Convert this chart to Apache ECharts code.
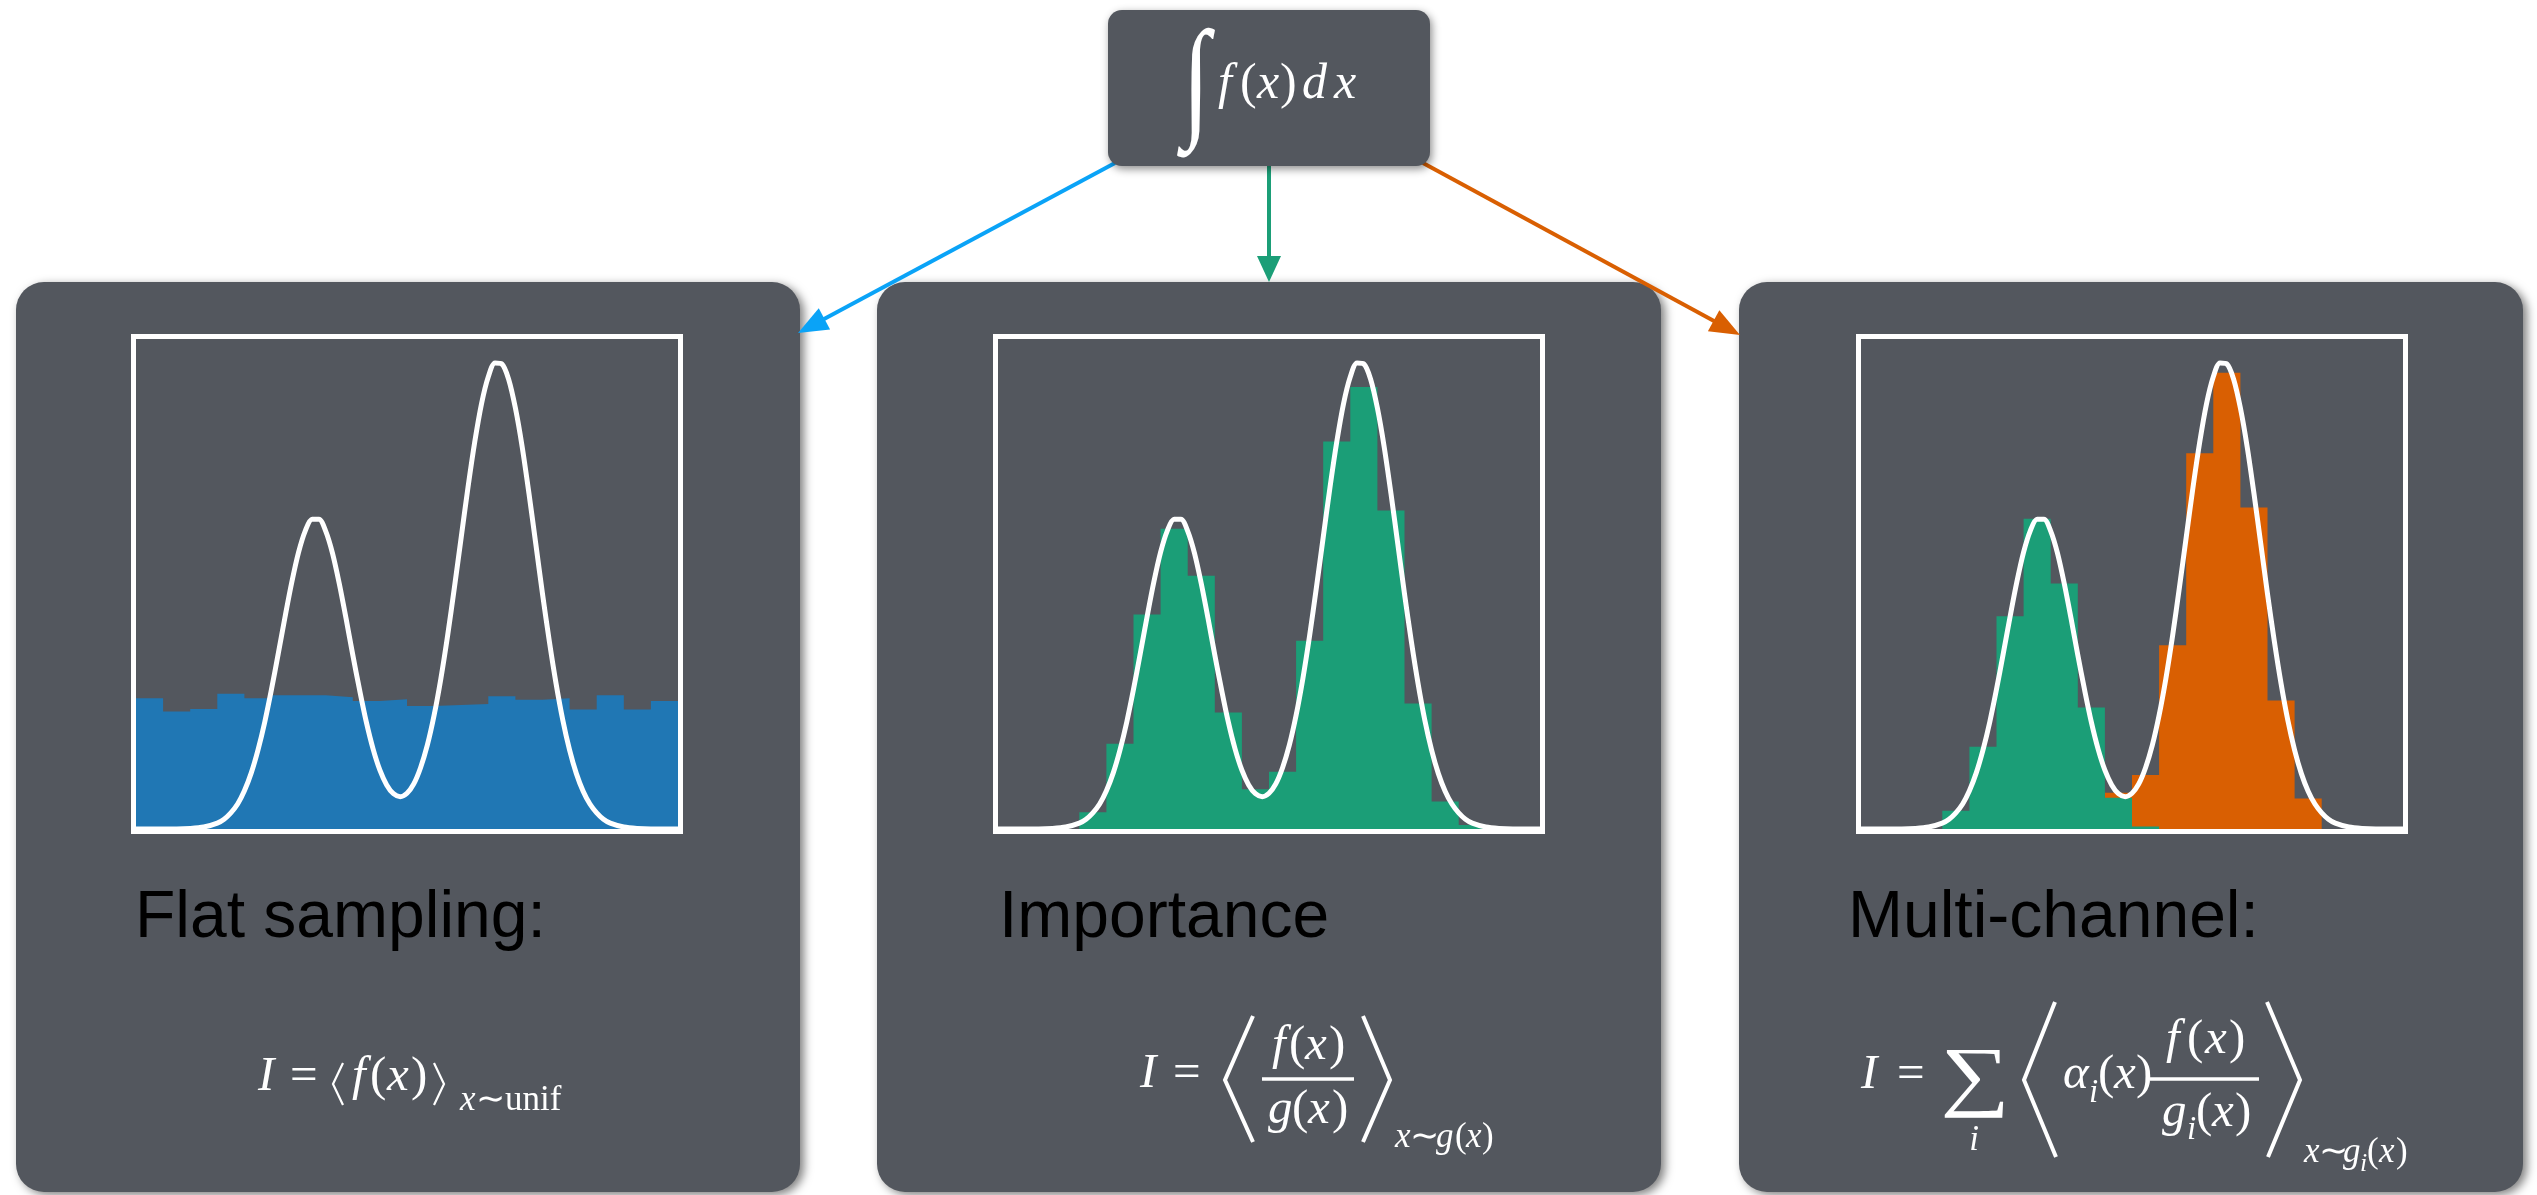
<!DOCTYPE html>
<html>
<head>
<meta charset="utf-8">
<script src="https://cdn.jsdelivr.net/npm/echarts@6/dist/echarts.min.js"></script>
<style>
  html, body { margin: 0; padding: 0; background: #ffffff; }
  #chart { width: 2537px; height: 1195px; }
</style>
</head>
<body>
<div id="chart"></div>
<script>
// ---- data -------------------------------------------------------------
// left edges of the 20 histogram bins on [0, 1], plus the closing edge
const binEdges = [0, 0.05, 0.1, 0.15, 0.2, 0.25, 0.3, 0.35, 0.4, 0.45,
                  0.5, 0.55, 0.6, 0.65, 0.7, 0.75, 0.8, 0.85, 0.9, 0.95, 1];

// integrand f(x), sampled on [0, 1]
const curveX = [0, 0.025, 0.05, 0.075, 0.1, 0.125, 0.15, 0.1625, 0.175, 0.1875, 0.2, 0.2125, 0.225, 0.2375,
                0.25, 0.2625, 0.275, 0.2875, 0.3, 0.3125, 0.325, 0.3375, 0.35, 0.3625, 0.375, 0.3875, 0.4,
                0.4125, 0.425, 0.4375, 0.45, 0.4625, 0.475, 0.4875, 0.5, 0.5125, 0.525, 0.5375, 0.55, 0.5625,
                0.575, 0.5875, 0.6, 0.6125, 0.625, 0.6375, 0.65, 0.6625, 0.675, 0.6875, 0.7, 0.7125, 0.725,
                0.7375, 0.75, 0.7625, 0.775, 0.7875, 0.8, 0.8125, 0.825, 0.8375, 0.85, 0.8625, 0.875,
                0.9, 0.925, 0.95, 0.975, 1];
const curveY = [0, 0, 0, 0, 0.001, 0.004, 0.012, 0.020, 0.033, 0.051, 0.078, 0.114, 0.161, 0.218,
                0.285, 0.358, 0.433, 0.504, 0.565, 0.609, 0.632, 0.632, 0.608, 0.563, 0.501, 0.430, 0.355,
                0.284, 0.218, 0.163, 0.120, 0.090, 0.072, 0.066, 0.073, 0.092, 0.125, 0.171, 0.232, 0.307,
                0.395, 0.493, 0.595, 0.697, 0.790, 0.868, 0.923, 0.951, 0.949, 0.918, 0.859, 0.780, 0.685,
                0.583, 0.480, 0.384, 0.297, 0.222, 0.161, 0.113, 0.077, 0.051, 0.033, 0.020, 0.012,
                0.004, 0.001, 0, 0, 0];

// sample histograms (one value per bin)
const flatSamples       = [0.267, 0.240, 0.245, 0.276, 0.267, 0.273, 0.273, 0.269, 0.261, 0.265,
                           0.251, 0.253, 0.255, 0.271, 0.264, 0.267, 0.244, 0.273, 0.244, 0.261];
const importanceSamples = [0, 0, 0, 0.034, 0.174, 0.438, 0.613, 0.517, 0.238, 0.081,
                           0.117, 0.384, 0.791, 0.902, 0.650, 0.256, 0.056, 0.008, 0, 0];
const channelOneSamples = [0, 0, 0, 0.037, 0.168, 0.434, 0.633, 0.501, 0.248, 0.064,
                           0.005, 0, 0, 0, 0, 0, 0, 0, 0, 0];
const channelTwoSamples = [0, 0, 0, 0, 0, 0, 0, 0, 0, 0.074,
                           0.110, 0.375, 0.767, 0.931, 0.656, 0.262, 0.062, 0, 0, 0];

const panelTitles = ['Flat sampling:', 'Importance', 'Multi-channel:'];

// ---- styling / layout ---------------------------------------------------
const PANEL_FILL = '#53575e';
const BLUE_BAR = '#2077b4';
const GREEN = '#1b9e77';
const ORANGE = '#d95f02';
const BLUE_ARROW = '#0aa3f7';
const WHITE = '#ffffff';

const panelLeft = [16, 877, 1739];
const PANEL_TOP = 282, PANEL_W = 784, PANEL_H = 910;
const plotLeft = [136, 998, 1861];
const PLOT_TOP = 339, PLOT_W = 542, PLOT_H = 490;
const titleLeft = [135, 999, 1848];

const SERIF = 'Liberation Serif';
const SANS = 'Liberation Sans';

const curveData = curveX.map((x, i) => [x, curveY[i]]);

// ---- grids & axes: one plot per panel ------------------------------------
const grids = [], xAxes = [], yAxes = [];
plotLeft.forEach((left, g) => {
  grids.push({ left: left, top: PLOT_TOP, width: PLOT_W, height: PLOT_H, show: false, containLabel: false });
  xAxes.push({ type: 'value', gridIndex: g, min: 0, max: 1, show: false });
  yAxes.push({ type: 'value', gridIndex: g, min: 0, max: 1, show: false });
});

// a histogram is a filled step outline: each bin holds its value from its left edge to the next edge
function histogram(name, counts, g, color) {
  const data = binEdges.map((x, i) => [x, counts[Math.min(i, counts.length - 1)]]);
  return {
    name: name, type: 'line', step: 'end', xAxisIndex: g, yAxisIndex: g, data: data,
    symbol: 'none', showSymbol: false,
    lineStyle: { width: 0, opacity: 0 },
    areaStyle: { color: color, opacity: 1 },
    silent: true, z: 2
  };
}
function integrand(g) {
  return {
    name: 'f(x)', type: 'line', xAxisIndex: g, yAxisIndex: g, data: curveData,
    smooth: 0.3, symbol: 'none', showSymbol: false,
    lineStyle: { color: WHITE, width: 5, join: 'round' }, silent: true, z: 4
  };
}

const series = [
  histogram('uniform', flatSamples, 0, BLUE_BAR),
  integrand(0),
  histogram('g(x)', importanceSamples, 1, GREEN),
  integrand(1),
  histogram('g2(x)', channelTwoSamples, 2, ORANGE),
  histogram('g1(x)', channelOneSamples, 2, GREEN),
  integrand(2)
];

// ---- graphic helpers -------------------------------------------------------
function txt(s, x, base, size, opt) {
  opt = opt || {};
  const align = opt.align || 'left';
  return {
    type: 'text', x: x, y: base - 0.34 * size, z: 30,
    scaleX: opt.sx || 1, scaleY: opt.sy || 1,
    style: {
      text: s,
      fontFamily: opt.sans ? SANS : SERIF,
      fontStyle: opt.italic ? 'italic' : 'normal',
      fontSize: size,
      fill: opt.color || WHITE,
      textAlign: align, align: align, textVerticalAlign: 'middle', verticalAlign: 'middle'
    }
  };
}
function it(s, x, base, size, opt) { return txt(s, x, base, size, Object.assign({ italic: true }, opt || {})); }
function polyline(points, width) {
  return { type: 'polyline', z: 30, shape: { points: points },
           style: { stroke: WHITE, lineWidth: width, fill: null, lineJoin: 'miter', lineCap: 'butt' } };
}
function hline(x1, x2, y, width) {
  return { type: 'line', z: 30, shape: { x1: x1, y1: y, x2: x2, y2: y }, style: { stroke: WHITE, lineWidth: width } };
}
function arrow(x1, y1, x2, y2, color, width, headLen, headHalf) {
  const dx = x2 - x1, dy = y2 - y1, len = Math.sqrt(dx * dx + dy * dy);
  const ux = dx / len, uy = dy / len;
  const bx = x2 - ux * headLen, by = y2 - uy * headLen;
  return [
    { type: 'line', z: 5, shape: { x1: x1, y1: y1, x2: bx + ux * 2, y2: by + uy * 2 },
      style: { stroke: color, lineWidth: width } },
    { type: 'polygon', z: 5, shape: { points: [[x2, y2], [bx - uy * headHalf, by + ux * headHalf], [bx + uy * headHalf, by - ux * headHalf]] },
      style: { fill: color } }
  ];
}

const graphics = [];

// connecting arrows
graphics.push(...arrow(1115, 163, 798, 333, BLUE_ARROW, 4, 30, 12));
graphics.push(...arrow(1269, 160, 1269, 282, GREEN, 4, 26, 12));
graphics.push(...arrow(1423, 163, 1740, 335, ORANGE, 4, 30, 12));

// top box with the integral
graphics.push({ type: 'rect', z: 8, shape: { x: 1108, y: 10, width: 322, height: 156, r: 14 },
  style: { fill: PANEL_FILL, shadowBlur: 8, shadowColor: 'rgba(0,0,0,0.45)', shadowOffsetX: 2, shadowOffsetY: 3 } });
graphics.push(txt('\u222B', 1196, 121.5, 100, { align: 'center', sy: 1.32 }));
graphics.push(it('f', 1218, 102, 50), txt('(', 1240, 102, 50), it('x', 1257, 102, 50), txt(')', 1280, 102, 50),
              it('d', 1302, 102, 50), it('x', 1334, 102, 50));

// panels, plot frames and titles
panelLeft.forEach((px, g) => {
  graphics.push({ type: 'rect', z: 0, shape: { x: px, y: PANEL_TOP, width: PANEL_W, height: PANEL_H, r: 28 },
    style: { fill: PANEL_FILL, shadowBlur: 10, shadowColor: 'rgba(0,0,0,0.5)', shadowOffsetX: 4, shadowOffsetY: 3 } });
  graphics.push({ type: 'rect', z: 20,
    shape: { x: plotLeft[g] - 2.5, y: PLOT_TOP - 2.5, width: PLOT_W + 5, height: PLOT_H + 5 },
    style: { fill: null, stroke: WHITE, lineWidth: 5 } });
  graphics.push(txt(panelTitles[g], titleLeft[g], 941, 66, { sans: true, color: '#000000' }));
});

// flat sampling estimate
graphics.push(it('I', 258, 1094, 49), txt('=', 290, 1094, 49),
  polyline([[343, 1063], [333, 1084], [343, 1105]], 2.2),
  it('f', 352, 1094, 49), txt('(', 370, 1094, 49), it('x', 387, 1094, 49), txt(')', 411, 1094, 49),
  polyline([[434, 1063], [444, 1084], [434, 1105]], 2.2),
  it('x', 460, 1113, 35), txt('\u223C', 476, 1113, 35), txt('unif', 505, 1113, 35));

// importance sampling estimate
graphics.push(it('I', 1140, 1091, 49), txt('=', 1173, 1091, 49),
  polyline([[1253, 1016], [1225, 1080], [1253, 1142]], 4),
  it('f', 1272, 1063, 49), txt('(', 1289, 1063, 49), it('x', 1305, 1063, 49), txt(')', 1329, 1063, 49),
  hline(1262, 1354, 1079, 3.5),
  it('g', 1268, 1127, 49), txt('(', 1292, 1127, 49), it('x', 1308, 1127, 49), txt(')', 1332, 1127, 49),
  polyline([[1363, 1016], [1390, 1080], [1363, 1142]], 4),
  it('x', 1395, 1150, 35), txt('\u223C', 1410, 1150, 35), it('g', 1436, 1150, 35), txt('(', 1455, 1150, 35),
  it('x', 1466, 1150, 35), txt(')', 1482, 1150, 35));

// multi-channel estimate
graphics.push(it('I', 1861, 1092, 49), txt('=', 1897, 1092, 49),
  txt('\u2211', 1975, 1107, 78, { align: 'center', sx: 1.25 }),
  it('i', 1974, 1153, 35, { align: 'center' }),
  polyline([[2055, 1002], [2024, 1080], [2056, 1157]], 4),
  it('\u03B1', 2063, 1092, 49), it('i', 2089, 1105, 33), txt('(', 2098, 1092, 49), it('x', 2114, 1092, 49), txt(')', 2136, 1092, 49),
  it('f', 2166, 1057, 49), txt('(', 2187, 1057, 49), it('x', 2205, 1057, 49), txt(')', 2229, 1057, 49),
  hline(2150, 2259, 1079, 3.5),
  it('g', 2162, 1130, 49), it('i', 2187, 1142, 33), txt('(', 2196, 1130, 49), it('x', 2212, 1130, 49), txt(')', 2235, 1130, 49),
  polyline([[2267, 1002], [2300, 1080], [2268, 1157]], 4),
  it('x', 2304, 1165, 35), txt('\u223C', 2319, 1165, 35), it('g', 2343, 1165, 35), it('i', 2360, 1173, 26),
  txt('(', 2367, 1165, 35), it('x', 2379, 1165, 35), txt(')', 2396, 1165, 35));

// ---- chart -------------------------------------------------------------------
const chart = echarts.init(document.getElementById('chart'), null, { renderer: 'canvas' });
chart.setOption({
  backgroundColor: '#ffffff',
  animation: false,
  tooltip: { show: false },
  grid: grids,
  xAxis: xAxes,
  yAxis: yAxes,
  series: series,
  graphic: { elements: graphics }
});
</script>
</body>
</html>
